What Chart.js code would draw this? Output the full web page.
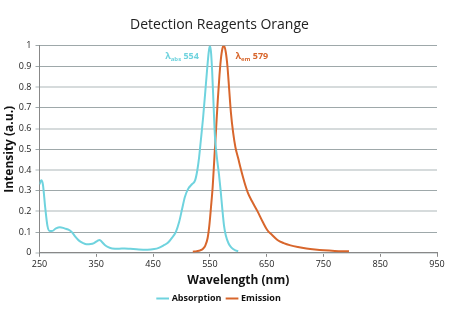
<!DOCTYPE html>
<html><head><meta charset="utf-8">
<script src="https://cdn.jsdelivr.net/npm/chart.js@4"></script>
<style>html,body{margin:0;padding:0;background:#fff}#wrap{width:450px;height:328px}</style>
</head><body><div id="wrap"><canvas id="c" width="450" height="328"></canvas></div>
<script>
const absWavelength = [250,253,256,260,264,268,272,279,286,294,301,307,313,319,326,333,340,346,352,356,360,365,371,378,390,400,410,425,440,452,460,468,476,484,490,496,501,506,512,518,524,528,531,534,538,542,545,548,550,552,554,556,559,562,566,569,572,575,578,583,588,595,600];
const absValues     = [0.33,0.35,0.33,0.22,0.13,0.105,0.105,0.118,0.124,0.118,0.112,0.100,0.078,0.060,0.048,0.041,0.042,0.047,0.058,0.062,0.052,0.038,0.027,0.021,0.020,0.021,0.019,0.016,0.015,0.018,0.024,0.035,0.048,0.075,0.10,0.15,0.21,0.27,0.31,0.33,0.35,0.40,0.46,0.54,0.65,0.78,0.88,0.97,1.0,0.97,0.88,0.75,0.56,0.47,0.38,0.30,0.21,0.13,0.085,0.045,0.025,0.012,0.008];
const emWavelength  = [520,527,533,538,542,546,549,552,555,558,561,564,567,570,573,575,578,581,584,587,591,595,600,605,611,617,624,634,643,651,660,669,680,692,705,720,735,751,770,795];
const emValues      = [0.005,0.008,0.012,0.02,0.035,0.07,0.13,0.22,0.32,0.46,0.60,0.74,0.86,0.95,0.995,1.0,0.97,0.90,0.79,0.68,0.58,0.51,0.455,0.40,0.34,0.29,0.25,0.20,0.15,0.11,0.085,0.062,0.047,0.036,0.028,0.021,0.016,0.012,0.009,0.007];
const seriesNames = ['Absorption','Emission'];
const peakLabels = [{sym:'λ',sub:'abs',num:' 554',x:501,y:0.935},{sym:'λ',sub:'em',num:' 579',x:624,y:0.935}];
const titleText = 'Detection Reagents Orange';
const xTitle = 'Wavelength (nm)';
const yTitle = 'Intensity (a.u.)';
const COL_ABS = '#6fd3de', COL_EM = '#d8662c';
const FONT = '"Open Sans", "DejaVu Sans", sans-serif';

const toPts = (xs, ys) => xs.map((x, i) => ({x, y: ys[i]}));

const peakPlugin = {
  id: 'peaks',
  afterDatasetsDraw(chart) {
    const ctx = chart.ctx, xs = chart.scales.x, ys = chart.scales.y;
    const cols = [COL_ABS, COL_EM];
    peakLabels.forEach((p, i) => {
      let px = xs.getPixelForValue(p.x), py = ys.getPixelForValue(p.y);
      ctx.save();
      ctx.fillStyle = cols[i];
      ctx.textBaseline = 'alphabetic';
      ctx.textAlign = 'left';
      ctx.font = 'bold 9px ' + FONT;
      const w1 = ctx.measureText(p.sym).width;
      ctx.font = 'bold 6px ' + FONT;
      const w2 = ctx.measureText(p.sub).width;
      ctx.font = 'bold 9px ' + FONT;
      const w3 = ctx.measureText(p.num).width;
      let x0 = px - (w1 + w2 + w3) / 2;
      ctx.fillText(p.sym, x0, py);
      ctx.font = 'bold 6px ' + FONT;
      ctx.fillText(p.sub, x0 + w1, py + 2);
      ctx.font = 'bold 9px ' + FONT;
      ctx.fillText(p.num, x0 + w1 + w2, py);
      ctx.restore();
    });
  }
};

const oddTenth = c => c.tick && Math.round(c.tick.value * 10) % 2 === 1;

new Chart(document.getElementById('c'), {
  type: 'line',
  data: {
    datasets: [
      {label: seriesNames[0], data: toPts(absWavelength, absValues), borderColor: COL_ABS, backgroundColor: COL_ABS, borderWidth: 2, pointRadius: 0, cubicInterpolationMode: 'monotone'},
      {label: seriesNames[1], data: toPts(emWavelength, emValues), borderColor: COL_EM, backgroundColor: COL_EM, borderWidth: 2, pointRadius: 0, cubicInterpolationMode: 'monotone'}
    ]
  },
  options: {
    responsive: false, animation: false,
    layout: {padding: {top: 17, right: 13, left: 2, bottom: 15}},
    plugins: {
      title: {display: true, text: titleText, color: '#222', font: {family: FONT, size: 14, weight: 'normal'}, padding: {top: 0, bottom: 12}},
      legend: {position: 'bottom', labels: {usePointStyle: true, pointStyle: 'line', boxWidth: 22, color: '#111', font: {family: FONT, size: 9, weight: 'bold'}, padding: 6}},
      tooltip: {enabled: false}
    },
    scales: {
      x: {
        type: 'linear', min: 250, max: 950,
        ticks: {stepSize: 100, color: '#222', font: {family: FONT, size: 9}, padding: 2, maxRotation: 0},
        grid: {drawOnChartArea: false, drawTicks: true, tickLength: 4, color: '#888'},
        border: {color: '#888', width: 1},
        title: {display: true, text: xTitle, color: '#111', font: {family: FONT, size: 12, weight: 'bold'}, padding: {top: 2, bottom: 0}}
      },
      y: {
        min: 0, max: 1,
        afterFit: s => { s.width = 37.5; },
        ticks: {stepSize: 0.1, color: '#222', font: {family: FONT, size: 9}, padding: 4, callback: v => String(+v.toFixed(1))},
        grid: {
          color: c => (oddTenth(c) || (c.tick && c.tick.value === 1) ? '#9ea8aa' : '#d6dbdc'),
          lineWidth: c => (oddTenth(c) || (c.tick && c.tick.value === 1) ? 1 : 2),
          tickLength: 4
        },
        border: {color: '#888', width: 1},
        title: {display: true, text: yTitle, color: '#111', font: {family: FONT, size: 12, weight: 'bold'}, padding: {top: 0, bottom: 2}}
      }
    }
  },
  plugins: [peakPlugin]
});
</script>
</body></html>
